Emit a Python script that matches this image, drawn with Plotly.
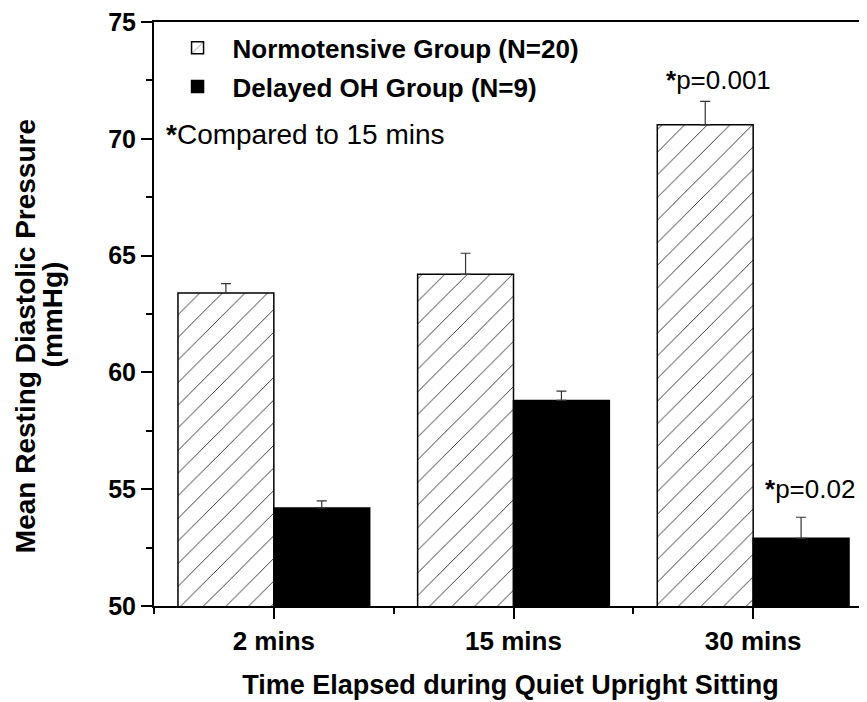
import plotly.graph_objects as go

categories = ["2 mins", "15 mins", "30 mins"]
normo_mean = [63.4, 64.2, 70.6]
normo_err = [0.4, 0.9, 1.0]
delayed_mean = [54.2, 58.8, 52.9]
delayed_err = [0.3, 0.4, 0.9]
y_ticks = [50, 55, 60, 65, 70, 75]
series_names = ["Normotensive Group (N=20)", "Delayed OH Group (N=9)"]

FONT = "Liberation Sans, Arial, sans-serif"
xpos = list(range(len(categories)))

fig = go.Figure()
fig.add_trace(go.Bar(
    x=xpos, y=normo_mean, name="<b>" + series_names[0] + "</b>",
    legendgroup="a",
    marker=dict(color="white", line=dict(color="black", width=1.5),
                pattern=dict(shape="/", size=16, solidity=0.06,
                             fgcolor="#333333", bgcolor="white", fillmode="replace")),
    error_y=dict(type="data", array=normo_err, arrayminus=[0] * len(normo_err),
                 symmetric=False, color="#333333", thickness=1.2, width=5),
))
fig.add_trace(go.Bar(
    x=xpos, y=delayed_mean, name="<b>" + series_names[1] + "</b>",
    legendgroup="b",
    marker=dict(color="black", line=dict(color="black", width=1.5)),
    error_y=dict(type="data", array=delayed_err, arrayminus=[0] * len(delayed_err),
                 symmetric=False, color="#333333", thickness=1.2, width=5),
))

xrange = [-0.5, 2.475]
# the page body has an 8px default margin, so the figure is sized to fill
# the remaining window area
fig.update_layout(
    width=859, height=694,
    margin=dict(l=146, r=0, t=14, b=96),
    paper_bgcolor="white", plot_bgcolor="white",
    barmode="group", bargap=0.2, bargroupgap=0,
    font=dict(family=FONT, color="black", size=26),
    showlegend=True,
    legend=dict(x=0.012, y=0.996, xanchor="left", yanchor="top",
                bgcolor="rgba(0,0,0,0)", font=dict(size=26, family=FONT),
                tracegroupgap=2, itemwidth=60),
    xaxis=dict(range=xrange, tickmode="array", tickvals=xpos,
               ticktext=["<b>%s</b>" % c for c in categories],
               ticks="outside", ticklen=11, tickwidth=2, tickcolor="black",
               showline=True, linewidth=2, linecolor="black", mirror=True,
               showgrid=False, zeroline=False,
               tickfont=dict(size=26, family=FONT),
               minor=dict(tickmode="linear", tick0=0.5, dtick=1, ticks="outside",
                          ticklen=6, tickwidth=2, tickcolor="black"),
               title=dict(text="<b>Time Elapsed during Quiet Upright Sitting</b>",
                          font=dict(size=27, family=FONT), standoff=20)),
    yaxis=dict(range=[50, 75], tickmode="array", tickvals=y_ticks,
               ticktext=["<b>%d</b>" % v for v in y_ticks],
               ticks="outside", ticklen=11, tickwidth=2, tickcolor="black",
               showline=True, linewidth=2, linecolor="black",
               showgrid=False, zeroline=False, ticklabeloverflow="allow",
               tickfont=dict(size=25, family=FONT),
               minor=dict(tickmode="linear", tick0=52.5, dtick=5, ticks="outside",
                          ticklen=6, tickwidth=2, tickcolor="black")),
    xaxis2=dict(overlaying="x", side="top", anchor="y", range=xrange,
                tickmode="array", tickvals=xpos, showticklabels=False,
                ticks="inside", ticklen=11, tickwidth=2, tickcolor="black",
                showline=True, linewidth=2, linecolor="black",
                showgrid=False, zeroline=False,
                minor=dict(tickmode="linear", tick0=0.5, dtick=1, ticks="inside",
                           ticklen=6, tickwidth=2, tickcolor="black")),
    yaxis2=dict(overlaying="y", side="right", anchor="x", range=[50, 75],
                tickmode="array", tickvals=y_ticks, showticklabels=False,
                ticks="inside", ticklen=5, tickwidth=2, tickcolor="black",
                showline=False, showgrid=False, zeroline=False),
)

fig.add_annotation(text="<b>Mean Resting Diastolic Pressure</b>",
                   xref="paper", yref="y", x=-0.181, y=61.55,
                   xanchor="center", yanchor="middle", textangle=-90,
                   showarrow=False, font=dict(size=28, family=FONT))
fig.add_annotation(text="<b>(mmHg)</b>",
                   xref="paper", yref="y", x=-0.1425, y=62.5,
                   xanchor="center", yanchor="middle", textangle=-90,
                   showarrow=False, font=dict(size=28, family=FONT))
fig.add_annotation(text="<b>*</b>Compared to 15 mins", xref="paper", yref="y",
                   x=0.014, y=70.2, xanchor="left", yanchor="middle",
                   showarrow=False, font=dict(size=28, family=FONT))
fig.add_annotation(text="<b>*</b>p=0.001", xref="x", yref="y",
                   x=1.855, y=72.5, xanchor="center", yanchor="middle",
                   showarrow=False, font=dict(size=26, family=FONT))
fig.add_annotation(text="<b>*</b>p=0.02", xref="x", yref="y",
                   x=2.04, y=55.0, xanchor="left", yanchor="middle",
                   showarrow=False, font=dict(size=26, family=FONT))

fig.write_html("out.html")
